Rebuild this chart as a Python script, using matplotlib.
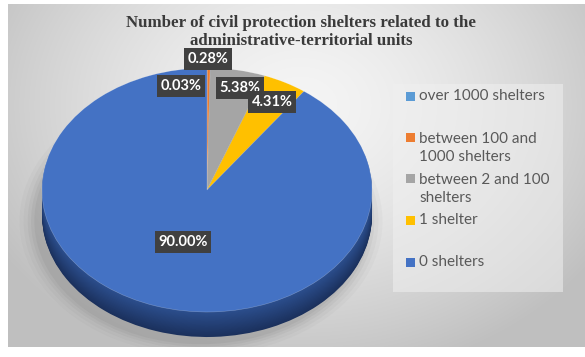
import numpy as np
import matplotlib
matplotlib.use("Agg")
import matplotlib.pyplot as plt
from matplotlib.patches import Rectangle, Ellipse
from matplotlib.colors import to_rgb

# ---- data ----
categories = ["over 1000 shelters", "between 100 and\n1000 shelters",
              "between 2 and 100\nshelters", "1 shelter", "0 shelters"]
values = [0.03, 0.28, 5.38, 4.31, 90.00]
colors = ["#5B9BD5", "#ED7D31", "#A5A5A5", "#FFC000", "#4472C4"]
title = "Number of civil protection shelters related to the\nadministrative-territorial units"

W, H = 585, 357
fig = plt.figure(figsize=(W / 100, H / 100), dpi=100)
fig.patch.set_facecolor("white")

def fbox(x0, y0, x1, y1):
    """pixel box (top-left origin) -> figure fraction rect"""
    return [x0 / W, 1 - y1 / H, (x1 - x0) / W, (y1 - y0) / H]

# ---- background gradient (chart area) ----
bx0, by0, bx1, by1 = 8, 4, 585, 347
bg = fig.add_axes(fbox(bx0, by0, bx1, by1), zorder=-10)
yy, xx = np.mgrid[by0:by1, bx0:bx1]
d = np.sqrt(((xx - 300) / 320.0) ** 2 + ((yy - 105) / 250.0) ** 2)
v = np.clip(0.96 - 0.18 * d ** 1.5, 0.75, 1.0)
img = np.dstack([v, v, v])
bg.imshow(img, extent=[bx0, bx1, by1, by0], aspect="auto")
bg.set_xlim(bx0, bx1); bg.set_ylim(by1, by0)
bg.axis("off")

# ---- pie (3D-like ellipse) ----
cx_px, cy_px, a_px, b_px = 207, 190, 165, 122
depth_px = 25
ax_x0, ax_x1, ax_y0, ax_y1 = 8, 400, 30, 347
ax = fig.add_axes(fbox(ax_x0, ax_y0, ax_x1, ax_y1))
ax.axis("off")
depth = depth_px / b_px

# soft shadow (offset down-left)
sx, sy = -6 / a_px, -(depth_px + 6) / b_px
for s, al in [(1.10, 0.035), (1.075, 0.045), (1.05, 0.06), (1.03, 0.07), (1.01, 0.08)]:
    ax.add_patch(Ellipse((sx, sy), 2 * s, 2 * s, fc="#555555", ec="none",
                         alpha=al, zorder=0))

n_layers = 30
dark_bot = np.array(to_rgb("#1b315d"))
dark_top = np.array(to_rgb("#2c4f8e"))
for i in range(n_layers, 0, -1):
    t = 1 - i / n_layers
    c = tuple(dark_bot * (1 - t) + dark_top * t)
    side_cols = [c] * len(values)
    wl, _ = ax.pie(values, colors=side_cols, startangle=90, counterclock=False,
                   radius=1, center=(0, -depth * i / n_layers),
                   wedgeprops=dict(linewidth=0, edgecolor="none"))
    for w in wl:
        w.set_zorder(1)

wedges, _ = ax.pie(values, colors=colors, startangle=90, counterclock=False,
                   radius=1, center=(0, 0),
                   wedgeprops=dict(linewidth=0.4, edgecolor=(1, 1, 1, 0.3)))
for w in wedges:
    w.set_zorder(2)

ax.set_aspect("auto")
ax.set_xlim((ax_x0 - cx_px) / a_px, (ax_x1 - cx_px) / a_px)
ax.set_ylim((cy_px - ax_y1) / b_px, (cy_px - ax_y0) / b_px)

# ---- data labels ----
label_pos_px = [(181, 86), (208, 59), (240, 88), (272, 102), (183, 242)]
for val, (px, py) in zip(values, label_pos_px):
    ax.text((px - cx_px) / a_px, (cy_px - py) / b_px, f"{val:.2f}%",
            ha="center", va="center", color="white", fontsize=10.5,
            fontweight="bold", family="Lato", zorder=5,
            bbox=dict(boxstyle="square,pad=0.25", fc="#404040", ec="none"))

# ---- title ----
fig.text(301 / W, 1 - 32 / H, title, ha="center", va="center",
         family="Liberation Serif", fontweight="bold", fontsize=12.2,
         color="#3a3a3a", linespacing=1.1)

# ---- legend ----
lg = fig.add_axes([0, 0, 1, 1], zorder=3)
lg.set_xlim(0, W); lg.set_ylim(H, 0); lg.axis("off")
lg.add_patch(Rectangle((393, 84), 170, 208, fc="#f0f0f0", ec="none", alpha=0.55))
entry_y = [96, 148, 189, 220, 262]
line_h = 20.5
for lab, col, ey in zip(categories, colors, entry_y):
    nlines = lab.count("\n") + 1
    first_y = ey - (nlines - 1) * line_h / 2
    lg.add_patch(Rectangle((406, first_y - 4.5), 9, 9, fc=col, ec="none"))
    lg.text(419, ey, lab, ha="left", va="center", fontsize=11,
            family="Lato", color="#595959", linespacing=1.4)

fig.savefig("out.png", dpi=100, facecolor="white")
